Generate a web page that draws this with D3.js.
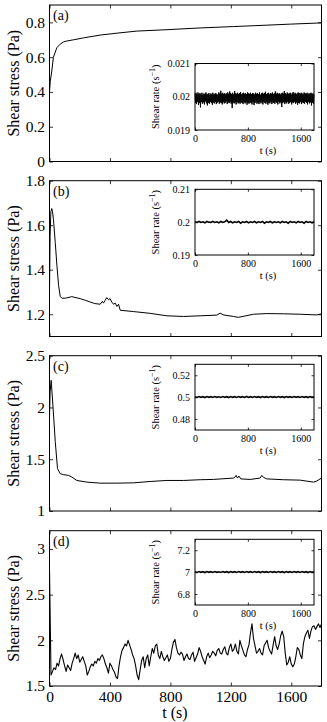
<!DOCTYPE html>
<html><head><meta charset="utf-8">
<script src="https://cdn.jsdelivr.net/npm/d3@7"></script>
<style>
html,body{margin:0;padding:0;background:#fff;}
svg{display:block;}
</style></head><body>
<svg id="c" width="327" height="722"></svg>
<script>
// ---------- DATA ----------
const xTicks = [0, 400, 800, 1200, 1600];
const xTickLabels = ["0", "400", "800", "1200", "1600"];
const insetXTicks = [0, 800, 1600];
const insetXTickLabels = ["0", "800", "1600"];
const tMax = 1800;

// Panel (a)
const aYTicks = [0, 0.2, 0.4, 0.6, 0.8];
const aYLabels = ["0", "0.2", "0.4", "0.6", "0.8"];
const aT = [0, 5, 15, 26, 49, 71, 93, 115, 160, 225, 335, 446, 578, 777, 997, 1218, 1438, 1593, 1769, 1800];
const aV = [0.40, 0.46, 0.52, 0.60, 0.655, 0.675, 0.688, 0.693, 0.700, 0.711, 0.727, 0.738, 0.750, 0.758, 0.768, 0.776, 0.784, 0.790, 0.796, 0.798];
const aInsetYTicks = [0.019, 0.02, 0.021];
const aInsetYLabels = ["0.019", "0.02", "0.021"];
const aInsetV = [
0.02010,0.01982,0.02012,0.01978,0.02008,0.01985,0.02013,0.01975,0.02009,0.01981,
0.02011,0.01968,0.02007,0.01984,0.02012,0.01979,0.02006,0.01983,0.02010,0.01977,
0.02008,0.01986,0.02013,0.01980,0.02009,0.01974,0.02007,0.01982,0.02011,0.01979,
0.02006,0.01985,0.02010,0.01981,0.02008,0.01976,0.02012,0.01983,0.02007,0.01980,
0.02009,0.01984,0.02011,0.01978,0.02008,0.01982,0.02006,0.01985,0.02013,0.01979,
0.02010,0.01983,0.02018,0.01981,0.02009,0.01977,0.02012,0.01984,0.02008,0.01980,
0.02011,0.01982,0.02007,0.01986,0.02010,0.01978,0.02013,0.01983,0.02009,0.01981,
0.02016,0.01984,0.02011,0.01979,0.02008,0.01966,0.02012,0.01982,0.02007,0.01980,
0.02017,0.01983,0.02010,0.01977,0.02009,0.01984,0.02012,0.01980,0.02008,0.01982,
0.02011,0.01979,0.02014,0.01983,0.02007,0.01981,0.02010,0.01978,0.02012,0.01984,
0.02009,0.01980,0.02011,0.01983,0.02008,0.01976,0.02013,0.01982,0.02010,0.01979,
0.02009,0.01983,0.02012,0.01981,0.02008,0.01977,0.02011,0.01984,0.02010,0.01975,
0.02007,0.01981,0.02012,0.01985,0.02009,0.01979,0.02011,0.01982,0.02008,0.01978,
0.02013,0.01984,0.02006,0.01980,0.02010,0.01983,0.02012,0.01977,0.02009,0.01985,
0.02011,0.01981,0.02015,0.01979,0.02008,0.01984,0.02010,0.01976,0.02012,0.01982,
0.02007,0.01980,0.02011,0.01985,0.02009,0.01978,0.02013,0.01983,0.02008,0.01981,
0.02010,0.01979,0.02016,0.01984,0.02009,0.01982,0.02012,0.01977,0.02008,0.01985,
0.02011,0.01980,0.02007,0.01983,0.02010,0.01969,0.02012,0.01981,0.02009,0.01984,
0.02017,0.01978,0.02011,0.01983,0.02008,0.01980,0.02013,0.01985,0.02009,0.01979,
0.02010,0.01982,0.02012,0.01984,0.02007,0.01977,0.02011,0.01983,0.02014,0.01981,
0.02009,0.01985,0.02012,0.01979,0.02008,0.01983,0.02010,0.01976,0.02013,0.01982,
0.02011,0.01980,0.02009,0.01984,0.02012,0.01978,0.02010,0.01983,0.02008,0.01981,
0.02013,0.01979,0.02011,0.01985,0.02009,0.01982,0.02012,0.01977,0.02010,0.01984,
0.02008,0.01980,0.02011,0.01983,0.02012,0.01974,0.02009,0.01982,0.02010,0.01979,
0.02007];

// Panel (b)
const bYTicks = [1.2, 1.4, 1.6, 1.8];
const bYLabels = ["1.2", "1.4", "1.6", "1.8"];
const bT = [0, 4, 9, 15, 20, 26, 38, 49, 60, 71, 82, 104, 148, 203, 240, 269, 300, 335, 350, 357, 368, 379, 390, 401, 412, 424, 435, 446, 457, 468, 556, 666, 777, 887, 997, 1107, 1129, 1150, 1218, 1250, 1300, 1350, 1438, 1549, 1659, 1769, 1800];
const bV = [1.30, 1.55, 1.66, 1.675, 1.66, 1.627, 1.523, 1.42, 1.33, 1.28, 1.272, 1.272, 1.279, 1.27, 1.262, 1.255, 1.248, 1.245, 1.258, 1.25, 1.262, 1.275, 1.265, 1.27, 1.255, 1.245, 1.25, 1.235, 1.245, 1.218, 1.212, 1.204, 1.193, 1.19, 1.193, 1.196, 1.205, 1.197, 1.19, 1.186, 1.193, 1.2, 1.203, 1.202, 1.2, 1.197, 1.202];
const bInsetYTicks = [0.19, 0.2, 0.21];
const bInsetYLabels = ["0.19", "0.2", "0.21"];
const bInsetV = [
0.2001,0.1999,0.2002,0.1999,0.2001,0.1998,0.2002,0.2000,0.1999,0.2002,
0.1999,0.2001,0.1998,0.2002,0.1999,0.2001,0.2006,0.1999,0.2002,0.1998,
0.2001,0.1999,0.2002,0.1997,0.2001,0.1999,0.2002,0.1998,0.2001,0.1999,
0.2002,0.1998,0.2001,0.1999,0.2002,0.1997,0.2001,0.1999,0.2002,0.1998,
0.2001,0.1999,0.2001,0.1998,0.2002,0.1999,0.2001,0.1997,0.2002,0.1999,
0.2001,0.1998,0.2002,0.1999,0.2001,0.1997,0.2002,0.1999,0.2001,0.1998,
0.2001];

// Panel (c)
const cYTicks = [1, 1.5, 2, 2.5];
const cYLabels = ["1", "1.5", "2", "2.5"];
const cT = [0, 4, 11, 22, 38, 53, 71, 93, 126, 148, 181, 247, 335, 446, 556, 666, 777, 887, 997, 1085, 1218, 1229, 1235, 1244, 1253, 1266, 1328, 1394, 1405, 1416, 1438, 1549, 1659, 1747, 1769, 1800];
const cV = [1.9, 2.15, 2.262, 2.033, 1.672, 1.41, 1.361, 1.351, 1.344, 1.328, 1.295, 1.279, 1.269, 1.269, 1.272, 1.285, 1.295, 1.295, 1.302, 1.305, 1.318, 1.33, 1.344, 1.318, 1.338, 1.31, 1.305, 1.318, 1.344, 1.325, 1.31, 1.302, 1.298, 1.279, 1.29, 1.318];
const cInsetYTicks = [0.48, 0.5, 0.52];
const cInsetYLabels = ["0.48", "0.5", "0.52"];
const cInsetV = [
0.5004,0.4997,0.5005,0.4998,0.5004,0.4996,0.5005,0.4998,0.5004,0.4997,
0.5005,0.4998,0.5003,0.4997,0.5005,0.4998,0.5004,0.4996,0.5005,0.4998,
0.5004,0.4997,0.5005,0.4998,0.5004,0.4997,0.5006,0.4998,0.5004,0.4997,
0.5005,0.4998,0.5004,0.4996,0.5005,0.4998,0.5004,0.4997,0.5005,0.4998,
0.5004,0.4997,0.5005,0.4998,0.5004,0.4996,0.5005,0.4998,0.5004,0.4997,
0.5005,0.4998,0.5004,0.4997,0.5005,0.4998,0.5004,0.4996,0.5005,0.4998,
0.5004];

// Panel (d): sampled every 10 s from 0 to 1800 s
const dStep = 10;
const dYTicks = [1.5, 2, 2.5, 3];
const dYLabels = ["1.5", "2", "2.5", "3"];
const dV = [
2.77,1.62,1.66,1.70,1.68,1.75,1.72,1.80,1.85,1.79,
1.72,1.66,1.73,1.70,1.67,1.75,1.80,1.86,1.80,1.84,
1.76,1.79,1.82,1.77,1.72,1.62,1.66,1.71,1.74,1.72,
1.77,1.75,1.80,1.78,1.82,1.84,1.80,1.74,1.70,1.64,
1.75,1.72,1.68,1.65,1.60,1.58,1.72,1.82,1.89,1.92,
1.96,1.94,2.00,1.95,1.90,1.84,1.80,1.72,1.62,1.57,
1.68,1.78,1.82,1.70,1.80,1.84,1.72,1.82,1.91,1.86,
1.94,1.96,1.84,1.80,1.88,1.82,1.78,1.81,1.84,1.77,
1.80,1.90,1.98,2.01,1.92,1.86,1.84,1.87,1.85,1.78,
1.82,1.85,1.80,1.79,1.84,1.87,1.77,1.81,1.85,1.92,
1.88,1.82,1.78,1.74,1.82,1.86,1.81,1.84,1.88,1.86,
1.83,1.89,1.91,1.86,1.85,1.90,1.93,1.86,1.84,1.92,
1.96,1.88,1.90,1.96,1.88,1.85,2.00,1.94,1.89,1.84,
1.82,1.90,1.95,2.08,2.18,2.02,1.94,1.86,1.88,1.91,
1.86,1.84,1.94,1.97,2.00,1.92,1.88,1.85,1.95,2.04,
1.94,1.90,1.96,2.05,2.10,2.04,1.86,1.73,1.76,1.82,
1.74,1.71,1.74,1.82,1.92,1.90,1.84,1.80,1.96,2.04,
2.08,2.11,2.02,2.10,2.15,2.16,2.12,2.15,2.18,2.14,
2.18];
const dInsetYTicks = [6.8, 7, 7.2];
const dInsetYLabels = ["6.8", "7", "7.2"];
const dInsetV = [
7.004,6.997,7.005,6.998,7.004,6.996,7.005,6.998,7.004,6.997,
7.005,6.998,7.003,6.997,7.005,6.998,7.004,6.996,7.005,6.998,
7.004,6.997,7.005,6.998,7.004,6.997,7.005,6.998,7.004,6.997,
7.005,6.998,7.004,6.996,7.005,6.998,7.004,6.997,7.005,6.998,
7.004,6.997,7.005,6.998,7.004,6.996,7.005,6.998,7.004,6.997,
7.005,6.998,7.004,6.997,7.005,6.998,7.004,6.996,7.005,6.998,
7.004];

// ---------- LAYOUT ----------
const X0 = 49.5, X1 = 321.5;
const IX0 = 195, IX1 = 314;
const FONT = '"Liberation Serif", "Times New Roman", Times, "DejaVu Serif", serif';
const dT = dV.map((d, i) => i * dStep);
const panels = [
  {tag: "(a)", top: 5, bottom: 161.5, dom: [0, 0.9], ticks: aYTicks, labels: aYLabels, t: aT, v: aV, lw: 1,
   inset: {top: 63.5, bottom: 130, dom: [0.019, 0.021], ticks: aInsetYTicks, labels: aInsetYLabels, v: aInsetV, lw: 1}},
  {tag: "(b)", top: 180.7, bottom: 336.5, dom: [1.1, 1.8], ticks: bYTicks, labels: bYLabels, t: bT, v: bV, lw: 1,
   inset: {top: 189.3, bottom: 255, dom: [0.19, 0.21], ticks: bInsetYTicks, labels: bInsetYLabels, v: bInsetV, lw: 1.6}},
  {tag: "(c)", top: 355.7, bottom: 511, dom: [1, 2.5], ticks: cYTicks, labels: cYLabels, t: cT, v: cV, lw: 1,
   inset: {top: 364.3, bottom: 430, dom: [0.47, 0.53], ticks: cInsetYTicks, labels: cInsetYLabels, v: cInsetV, lw: 1.6}},
  {tag: "(d)", top: 530.7, bottom: 686, dom: [1.5, 3.2], ticks: dYTicks, labels: dYLabels, t: dT, v: dV, lw: 1.1, showX: true,
   inset: {top: 539.3, bottom: 605, dom: [6.7, 7.3], ticks: dInsetYTicks, labels: dInsetYLabels, v: dInsetV, lw: 1.6}}
];

const svg = d3.select("#c").attr("font-family", FONT);
svg.append("rect").attr("width", 327).attr("height", 722).attr("fill", "#fff");

function styleAxis(g, size) {
  g.select(".domain").remove();
  g.attr("font-family", FONT).attr("font-size", size);
  g.selectAll("line").attr("stroke", "#000").attr("stroke-width", 0.8);
  g.selectAll("text").attr("fill", "#000");
}

function frameAxes(g, x, y, xt, xl, yt, yl, tick, pad, fs, showX, showY) {
  const [l, r] = x.range();
  const [b, t] = y.range();
  const gl = g.append("g").attr("transform", `translate(${l},0)`)
    .call(d3.axisLeft(y).tickValues(yt).tickFormat((d, i) => showY ? yl[i] : "").tickSize(-tick).tickPadding(pad));
  styleAxis(gl, fs);
  const gr = g.append("g").attr("transform", `translate(${r},0)`)
    .call(d3.axisRight(y).tickValues(yt).tickFormat("").tickSize(-tick));
  styleAxis(gr, fs);
  const gt = g.append("g").attr("transform", `translate(0,${t})`)
    .call(d3.axisTop(x).tickValues(xt).tickFormat("").tickSize(-tick));
  styleAxis(gt, fs);
  const gb = g.append("g").attr("transform", `translate(0,${b})`)
    .call(d3.axisBottom(x).tickValues(xt).tickFormat((d, i) => showX ? xl[i] : "").tickSize(-tick).tickPadding(pad));
  styleAxis(gb, fs);
  g.append("rect").attr("x", l).attr("y", t).attr("width", r - l).attr("height", b - t)
    .attr("fill", "none").attr("stroke", "#000").attr("stroke-width", 1);
}

panels.forEach((p, k) => {
  const g = svg.append("g");
  const x = d3.scaleLinear().domain([0, tMax]).range([X0, X1]);
  const y = d3.scaleLinear().domain(p.dom).range([p.bottom, p.top]);
  const cid = "clip" + k;
  g.append("clipPath").attr("id", cid).append("rect")
    .attr("x", X0).attr("y", p.top).attr("width", X1 - X0).attr("height", p.bottom - p.top);
  const line = d3.line().x((d, i) => x(p.t[i])).y(d => y(d));
  g.append("path").datum(p.v).attr("d", line).attr("fill", "none").attr("stroke", "#000")
    .attr("stroke-width", p.lw).attr("stroke-linejoin", "round").attr("clip-path", `url(#${cid})`);
  frameAxes(g, x, y, xTicks, xTickLabels, p.ticks, p.labels, 3.5, 4.5, 15.5, !!p.showX, true);

  g.append("text").attr("x", 53).attr("y", p.top + 15).attr("font-size", 14).text(p.tag);
  const ym = (p.top + p.bottom) / 2;
  g.append("text").attr("transform", `translate(19,${ym}) rotate(-90)`).attr("text-anchor", "middle")
    .attr("font-size", 16).text("Shear stress (Pa)");
  if (p.showX) {
    g.append("text").attr("x", 175).attr("y", 717.5).attr("text-anchor", "middle").attr("font-size", 16).text("t (s)");
  }

  const q = p.inset;
  const gi = svg.append("g");
  const xi = d3.scaleLinear().domain([0, tMax]).range([IX0, IX1]);
  const yi = d3.scaleLinear().domain(q.dom).range([q.bottom, q.top]);
  gi.append("rect").attr("x", IX0).attr("y", q.top).attr("width", IX1 - IX0).attr("height", q.bottom - q.top).attr("fill", "#fff");
  const n = q.v.length;
  const li = d3.line().x((d, i) => xi(i * tMax / (n - 1))).y(d => yi(d));
  gi.append("path").datum(q.v).attr("d", li).attr("fill", "none").attr("stroke", "#000")
    .attr("stroke-width", q.lw);
  frameAxes(gi, xi, yi, insetXTicks, insetXTickLabels, q.ticks, q.labels, 2.5, 5, 10, true, true);
  const yim = (q.top + q.bottom) / 2;
  const lab = gi.append("text").attr("transform", `translate(158.5,${yim}) rotate(-90)`)
    .attr("text-anchor", "middle").attr("font-size", 10.5);
  lab.append("tspan").text("Shear rate (s");
  lab.append("tspan").attr("dy", -4).attr("font-size", 8).text("\u22121");
  lab.append("tspan").attr("dy", 4).text(")");
  gi.append("text").attr("x", 268).attr("y", q.bottom + 24).attr("text-anchor", "middle")
    .attr("font-size", 10.5).text("t (s)");
});
</script>
</body></html>
